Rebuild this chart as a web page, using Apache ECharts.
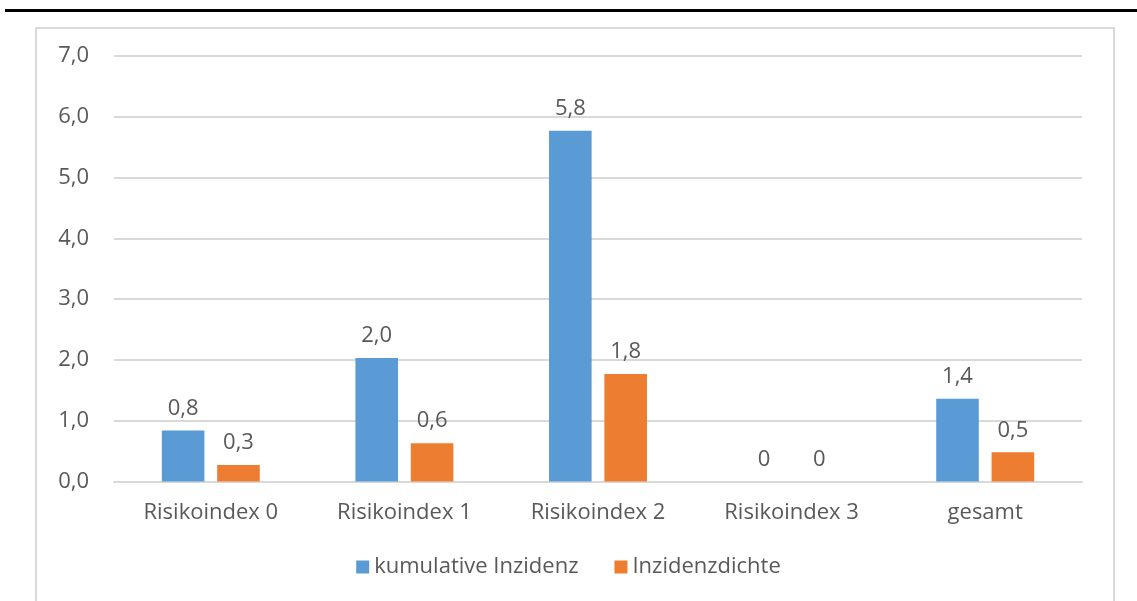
<!DOCTYPE html>
<html>
<head>
<meta charset="utf-8">
<script src="https://cdn.jsdelivr.net/npm/echarts@6/dist/echarts.min.js"></script>
<style>
html,body{margin:0;padding:0;background:#fff;}
#chart{width:1137px;height:601px;}
</style>
</head>
<body>
<div id="chart"></div>
<script>
const categories = ['Risikoindex 0', 'Risikoindex 1', 'Risikoindex 2', 'Risikoindex 3', 'gesamt'];
const kumulativeInzidenz = [0.84, 2.03, 5.77, 0, 1.36];
const inzidenzdichte = [0.27, 0.63, 1.77, 0, 0.48];
const seriesNames = ['kumulative Inzidenz', 'Inzidenzdichte'];

const FONT = '"Open Sans", "Noto Sans", sans-serif';
const TXT = '#595959';
const FS = 22;
const fmt = v => v === 0 ? '0' : v.toFixed(1).replace('.', ',');

const chart = echarts.init(document.getElementById('chart'), null, {renderer: 'canvas'});
const labelCfg = {
  show: true, position: 'top', distance: 11,
  color: TXT, fontFamily: FONT, fontSize: FS,
  formatter: p => fmt(p.value)
};
chart.setOption({
  animation: false,
  backgroundColor: '#ffffff',
  graphic: [
    {type: 'rect', shape: {x: 5, y: 9, width: 1132, height: 3}, style: {fill: '#000'}, z: 10},
    {type: 'rect', shape: {x: 36, y: 28, width: 1078, height: 600}, style: {fill: 'none', stroke: '#d9d9d9', lineWidth: 2}, z: -1}
  ],
  grid: {left: 114, right: 55, top: 56, bottom: 119.5, containLabel: false},
  legend: {
    data: seriesNames, bottom: 18, left: 'center',
    itemWidth: 13, itemHeight: 13, itemGap: 36,
    icon: 'rect',
    textStyle: {color: TXT, fontFamily: FONT, fontSize: FS}
  },
  xAxis: {
    type: 'category', data: categories,
    axisLine: {show: true, lineStyle: {color: '#d9d9d9', width: 2}},
    axisTick: {show: false},
    axisLabel: {color: TXT, fontFamily: FONT, fontSize: FS, margin: 20}
  },
  yAxis: {
    type: 'value', min: 0, max: 7, interval: 1,
    axisLine: {show: false}, axisTick: {show: false},
    splitLine: {lineStyle: {color: '#d9d9d9', width: 2}},
    axisLabel: {color: TXT, fontFamily: FONT, fontSize: FS, margin: 25,
      formatter: v => v.toFixed(1).replace('.', ',')}
  },
  series: [
    {name: seriesNames[0], type: 'bar', data: kumulativeInzidenz, barWidth: '22%', barGap: '30%',
     itemStyle: {color: '#5b9bd5'}, label: labelCfg},
    {name: seriesNames[1], type: 'bar', data: inzidenzdichte, barWidth: '22%', barGap: '30%',
     itemStyle: {color: '#ed7d31'}, label: labelCfg}
  ]
});
</script>
</body>
</html>
